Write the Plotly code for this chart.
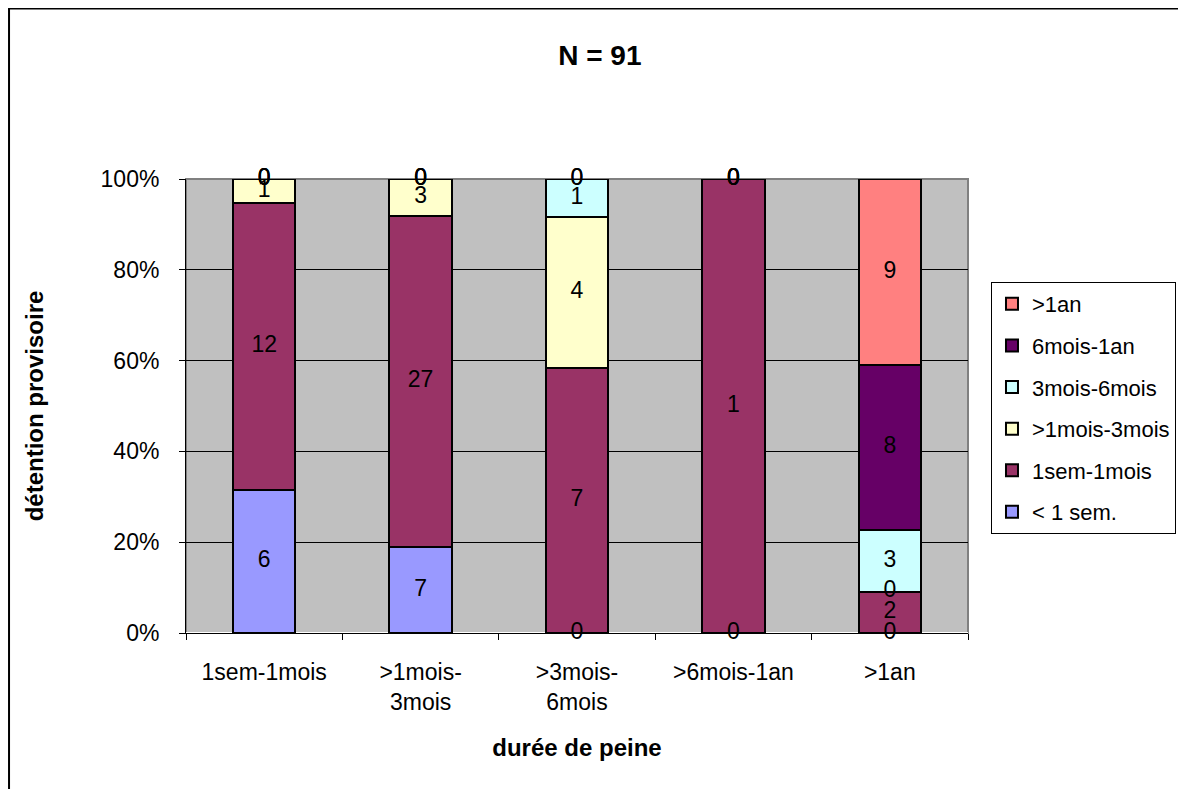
import plotly.graph_objects as go

# durée de peine (x categories)
categories = ['1sem-1mois', '>1mois-3mois', '>3mois-6mois', '>6mois-1an', '>1an']
tick_labels = ['1sem-1mois', '>1mois-<br>3mois', '>3mois-<br>6mois', '>6mois-1an', '>1an']

# détention provisoire (stacked series), counts per category
series_names = ['< 1 sem.', '1sem-1mois', '>1mois-3mois', '3mois-6mois', '6mois-1an', '>1an']
lt_1sem = [6, 7, 0, 0, 0]
sem_1mois = [12, 27, 7, 1, 2]
mois1_3 = [1, 3, 4, 0, 0]
mois3_6 = [0, 0, 1, 0, 3]
mois6_1an = [0, 0, 0, 0, 8]
gt_1an = [0, 0, 0, 0, 9]
series_values = [lt_1sem, sem_1mois, mois1_3, mois3_6, mois6_1an, gt_1an]
series_colors = ['#9999FF', '#993366', '#FFFFCC', '#CCFFFF', '#660066', '#FF8080']

totals = [sum(col) for col in zip(*series_values)]
FONT = 'Liberation Sans, Arial, sans-serif'

fig = go.Figure()

# bars (percent of each category), legend listed top series first
for i, (name, vals, color) in enumerate(zip(series_names, series_values, series_colors)):
    pct = [v / t * 100 for v, t in zip(vals, totals)]
    fig.add_trace(go.Bar(name=name, x=categories, y=pct,
                         marker=dict(color=color, line=dict(color='black', width=2)),
                         legendgroup=name, legendrank=100 - i, hoverinfo='skip'))

# data labels (counts) centred in each segment, zeros included
base = [0.0] * len(categories)
for vals in series_values:
    pct = [v / t * 100 for v, t in zip(vals, totals)]
    mids = [b + p / 2 for b, p in zip(base, pct)]
    fig.add_trace(go.Scatter(x=categories, y=mids, mode='text',
                             text=[str(v) for v in vals],
                             textfont=dict(family=FONT, size=23, color='black'),
                             showlegend=False, cliponaxis=False, hoverinfo='skip'))
    base = [b + p for b, p in zip(base, pct)]

# page body adds 8px offset, so margins are shifted to keep the plot area in place
fig.update_layout(
    width=1186, height=789,
    barmode='stack', bargap=0.6,
    margin=dict(l=178, r=226, t=171, b=164, autoexpand=False),
    paper_bgcolor='white', plot_bgcolor='#C0C0C0',
    font=dict(family=FONT, size=23, color='black'),
    title=dict(text='<b>N = 91</b>', x=0.499, xanchor='center', y=0.94, yanchor='middle',
               font=dict(size=28)),
    legend=dict(traceorder='grouped', tracegroupgap=10,
                x=1.0294, xanchor='left', y=0.773, yanchor='top',
                bordercolor='black', borderwidth=1, bgcolor='white',
                font=dict(size=22)),
    shapes=[
        dict(type='rect', xref='paper', yref='paper', x0=-0.2263, x1=1.4, y0=-0.5, y1=1.3756,
             line=dict(color='black', width=2), layer='below'),
        dict(type='rect', xref='paper', yref='paper', x0=0, x1=1, y0=0, y1=1,
             line=dict(color='#808080', width=2), layer='below'),
    ],
)

fig.update_xaxes(tickvals=categories, ticktext=tick_labels, tickson='boundaries',
                 ticks='outside', ticklen=6, tickcolor='black', ticklabelstandoff=18,
                 showline=True, linecolor='black', linewidth=1,
                 title=dict(text='<b>durée de peine</b>', font=dict(size=24), standoff=25),
                 automargin=False)
fig.update_yaxes(range=[0, 100], dtick=20, ticksuffix='%',
                 ticks='outside', ticklen=6, tickcolor='black', ticklabelstandoff=15,
                 showline=True, linecolor='black', linewidth=1,
                 showgrid=True, gridcolor='black', gridwidth=1,
                 title=dict(text='<b>détention provisoire</b>', font=dict(size=24), standoff=50),
                 automargin=False)

fig.write_html("out.html")
